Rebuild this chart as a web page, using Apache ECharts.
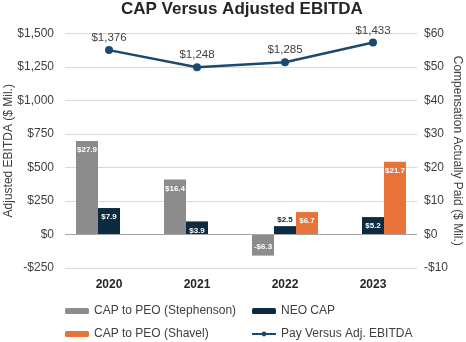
<!DOCTYPE html>
<html>
<head>
<meta charset="utf-8">
<script src="https://cdn.jsdelivr.net/npm/echarts@6/dist/echarts.min.js"></script>
<style>
  html, body { margin: 0; padding: 0; background: #fff; }
  #chart { width: 466px; height: 342px; }
</style>
</head>
<body>
<div id="chart"></div>
<script>
// Fiscal years on the category axis
const years = ['2020', '2021', '2022', '2023'];

// Compensation actually paid, $ millions (right axis)
const capStephenson = [27.9, 16.4, -6.3, null];
const neoCap = [7.9, 3.9, 2.5, 5.2];
const capShavel = [null, null, 6.7, 21.7];

// Adjusted EBITDA, $ millions (left axis)
const adjEbitda = [1376, 1248, 1285, 1433];

// Axis ranges
const leftMin = -250, leftMax = 1500, leftStep = 250;
const rightMin = -10, rightMax = 60, rightStep = 10;

const money = (v, digits) => {
  const s = '$' + Math.abs(v).toLocaleString('en-US', { minimumFractionDigits: digits, maximumFractionDigits: digits });
  return v < 0 ? '-' + s : s;
};

const FONT = 'Liberation Sans, Arial, sans-serif';
const TEXT = '#404040';

const barLabel = {
  show: true,
  position: 'insideTop',
  distance: 5,
  color: '#ffffff',
  fontSize: 8,
  fontWeight: 'bold',
  fontFamily: FONT,
  formatter: p => money(p.value, 1)
};

const legendBase = {
  orient: 'vertical',
  top: 305,
  padding: 0,
  height: 37,
  itemWidth: 24, itemHeight: 6, itemGap: 11,
  textStyle: { fontSize: 12, lineHeight: 12, color: TEXT, fontFamily: FONT }
};

const chart = echarts.init(document.getElementById('chart'));
chart.setOption({
  animation: false,
  textStyle: { fontFamily: FONT },
  title: {
    text: 'CAP Versus Adjusted EBITDA',
    left: 116,
    top: 0,
    padding: [1, 5, 5, 5],
    textStyle: { fontSize: 17, fontWeight: 'bold', color: '#262626', fontFamily: FONT }
  },
  legend: [
    Object.assign({}, legendBase, {
      left: 65,
      data: ['CAP to PEO (Stephenson)', 'CAP to PEO (Shavel)']
    }),
    Object.assign({}, legendBase, {
      left: 251,
      data: ['NEO CAP', 'Pay Versus Adj. EBITDA']
    })
  ],
  grid: { left: 65, right: 49, top: 33.5, bottom: 74, containLabel: false, outerBoundsMode: 'none' },
  xAxis: {
    type: 'category',
    data: years,
    axisLine: { show: false, onZero: false },
    axisTick: { show: false },
    axisLabel: { fontSize: 12, fontWeight: 'bold', color: '#262626', margin: 11, fontFamily: FONT }
  },
  yAxis: [
    {
      type: 'value',
      min: leftMin, max: leftMax, interval: leftStep,
      name: 'Adjusted EBITDA ($ Mil.)',
      nameLocation: 'middle',
      nameGap: 50,
      nameRotate: 90,
      nameMoveOverlap: false,
      nameTextStyle: { fontSize: 12, color: TEXT, fontFamily: FONT },
      axisLabel: { fontSize: 12, color: TEXT, margin: 11, formatter: v => money(v, 0) },
      splitLine: { lineStyle: { color: '#d9d9d9', width: 1 } },
      axisLine: { show: false },
      axisTick: { show: false }
    },
    {
      type: 'value',
      min: rightMin, max: rightMax, interval: rightStep,
      name: 'Compensation Actually Paid ($ Mil.)',
      nameLocation: 'middle',
      nameGap: 34,
      nameRotate: -90,
      nameMoveOverlap: false,
      nameTextStyle: { fontSize: 12, color: TEXT, fontFamily: FONT },
      axisLabel: { fontSize: 12, color: TEXT, margin: 7, formatter: v => money(v, 0) },
      splitLine: { show: false },
      axisLine: { show: false },
      axisTick: { show: false }
    }
  ],
  series: [
    {
      name: 'CAP to PEO (Stephenson)',
      type: 'bar',
      yAxisIndex: 1,
      barWidth: 22,
      barGap: '0%',
      itemStyle: { color: '#8c8c8c' },
      label: Object.assign({}, barLabel),
      data: capStephenson.map(v => v === null ? null :
        (v < 0 ? { value: v, label: { position: 'insideBottom' } } : v)),
      markLine: {
        silent: true,
        symbol: 'none',
        label: { show: false },
        lineStyle: { color: '#a6a6a6', width: 1, type: 'solid' },
        data: [{ yAxis: 0 }]
      }
    },
    {
      name: 'NEO CAP',
      type: 'bar',
      yAxisIndex: 1,
      barWidth: 22,
      barGap: '0%',
      itemStyle: { color: '#0c2a40' },
      label: Object.assign({}, barLabel),
      data: neoCap.map(v => v < 3
        ? { value: v, label: { position: 'top', distance: 2, color: '#262626' } }
        : v)
    },
    {
      name: 'CAP to PEO (Shavel)',
      type: 'bar',
      yAxisIndex: 1,
      barWidth: 22,
      barGap: '0%',
      itemStyle: { color: '#e8733a' },
      label: Object.assign({}, barLabel),
      data: capShavel
    },
    {
      name: 'Pay Versus Adj. EBITDA',
      type: 'line',
      yAxisIndex: 0,
      data: adjEbitda,
      symbol: 'circle',
      symbolSize: 8,
      lineStyle: { color: '#1b4a6e', width: 2.5 },
      itemStyle: { color: '#1b4a6e' },
      label: {
        show: true,
        position: 'top',
        distance: 2,
        fontSize: 11.5,
        color: TEXT,
        fontFamily: FONT,
        formatter: p => money(p.value, 0)
      },
      z: 5
    }
  ]
});
</script>
</body>
</html>
